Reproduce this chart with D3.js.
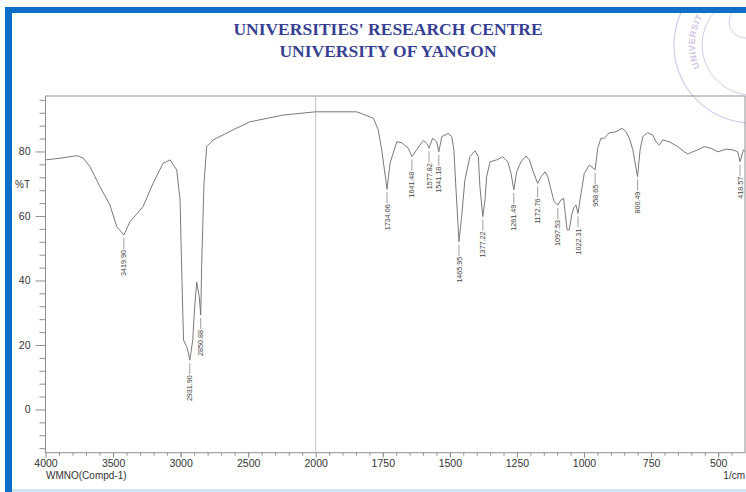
<!DOCTYPE html>
<html>
<head>
<meta charset="utf-8">
<script src="https://cdn.jsdelivr.net/npm/d3@7"></script>
<style>
  body { margin: 0; background: #fff; }
  svg { display: block; }
</style>
</head>
<body>
<div id="chart"></div>
<script>
// spectrum (cm-1, %T)
var wavenumbers = [4000, 3893, 3769, 3722, 3671, 3597, 3523, 3473, 3419.9, 3375, 3278, 3204, 3130, 3078, 3029, 3004,
  2990, 2978, 2955, 2945, 2931.9, 2910, 2899, 2881, 2862, 2850.88, 2844, 2827, 2807, 2758, 2612, 2486, 2240, 2000,
  1847, 1785, 1767, 1754, 1734.06, 1723, 1698, 1679, 1655, 1641.48, 1624, 1599, 1586, 1577.82, 1564, 1549, 1541.18,
  1530, 1506, 1493, 1485, 1477, 1465.95, 1456, 1444, 1425, 1406, 1394, 1388, 1377.22, 1369, 1363, 1350, 1325, 1303,
  1284, 1272, 1261.49, 1251, 1235, 1216, 1204, 1189, 1172.76, 1160, 1145, 1135, 1123, 1111, 1097.53, 1086, 1076,
  1070, 1063, 1055, 1045, 1036, 1030, 1022.31, 1011, 999, 980, 958.65, 949, 937, 924, 906, 881, 858, 843, 831, 818,
  800.49, 791, 781, 763, 744, 732, 719, 707, 682, 651, 626, 613, 595, 576, 552, 527, 501, 470, 445, 427, 418.57, 406, 400];
var transmittance = [77.4, 77.9, 78.7, 78.0, 75.3, 69.1, 63.4, 56.7, 54.1, 58.2, 62.9, 70.1, 76.3, 77.4, 74.3, 65,
  40, 21.5, 19.5, 18, 15.3, 21.5, 29.9, 39.5, 35, 29.3, 45, 70, 81.5, 83.6, 86.7, 89.2, 91.3, 92.3,
  92.3, 90.3, 86.7, 80.5, 68.3, 76.3, 83.0, 82.7, 81.0, 78.4, 80.5, 83.4, 82.5, 81.0, 84.1, 83.0, 79.9,
  84.6, 85.6, 84.6, 80.5, 68.1, 52.0, 59.8, 71.2, 78.4, 80.2, 78.4, 69.1, 59.8, 65.0, 72.2, 76.8, 77.4, 78.4,
  76.8, 73.2, 68.1, 73.7, 76.8, 78.6, 77.4, 73.7, 70.1, 72.2, 73.7, 72.2, 68.1, 64.4, 63.4, 65.0, 65.5,
  60.8, 55.7, 55.7, 60.8, 62.9, 63.4, 60.8, 67.0, 73.2, 75.8, 74.3, 81.0, 84.1, 84.1, 85.8, 86.1, 87.2, 86.1, 84.1, 80.5,
  72.2, 80.5, 84.6, 85.8, 85.1, 83.0, 82.0, 83.6, 83.0, 81.5, 79.9, 79.2, 79.9, 80.5, 81.5, 81.0, 79.9, 80.7, 80.5, 79.9, 76.8, 80.5, 80.0];

var peakWavenumbers = [3419.90, 2931.90, 2850.88, 1734.06, 1641.48, 1577.82, 1541.18, 1465.95, 1377.22,
  1261.49, 1172.76, 1097.53, 1022.31, 958.65, 800.49, 418.57];
var peakTransmittance = [54.1, 15.3, 29.3, 68.3, 78.4, 81.0, 79.9, 52.0, 59.8, 68.1, 70.1, 63.4, 60.8, 74.3, 72.2, 76.8];
var peakLabels = ["3419.90", "2931.90", "2850.88", "1734.06", "1641.48", "1577.82", "1541.18", "1465.95", "1377.22",
  "1261.49", "1172.76", "1097.53", "1022.31", "958.65", "800.49", "418.57"];

var xTickLabels = [4000, 3500, 3000, 2500, 2000, 1750, 1500, 1250, 1000, 750, 500];
var yTickLabels = [0, 20, 40, 60, 80];

var titleLines = ["UNIVERSITIES' RESEARCH CENTRE", "UNIVERSITY OF YANGON"];

var svgWidth = 746;
var svgHeight = 492;
var plot = { left: 45.5, right: 745, top: 96, bottom: 452.7 };
var font = "Liberation Sans, Arial, sans-serif";

var svg = d3.select("#chart").append("svg")
  .attr("width", svgWidth)
  .attr("height", svgHeight);

// stamp is cut by the page edge under the blue bar
svg.append("clipPath").attr("id", "pageClip")
  .append("rect").attr("x", 12).attr("y", 13).attr("width", svgWidth).attr("height", svgHeight);

// faint stamp in the corner
var stamp = svg.append("g").attr("opacity", 0.4).attr("clip-path", "url(#pageClip)");
var sc = { x: 752, y: 45 };
stamp.append("circle").attr("cx", sc.x).attr("cy", sc.y).attr("r", 78)
  .attr("fill", "none").attr("stroke", "#9a7fd0").attr("stroke-width", 1.2);
stamp.append("circle").attr("cx", sc.x).attr("cy", sc.y).attr("r", 50)
  .attr("fill", "none").attr("stroke", "#9a7fd0").attr("stroke-width", 1);
stamp.append("circle").attr("cx", 745).attr("cy", 22).attr("r", 16)
  .attr("fill", "none").attr("stroke", "#9a7fd0").attr("stroke-width", 1);
var a0 = Math.PI * 0.87;
var rr = 57;
stamp.append("path").attr("id", "stampArc").attr("fill", "none")
  .attr("d", "M" + (sc.x + rr * Math.cos(a0)) + "," + (sc.y + rr * Math.sin(a0)) +
    " A" + rr + "," + rr + " 0 0,1 " + (sc.x + rr * Math.cos(a0 + 1.9)) + "," + (sc.y + rr * Math.sin(a0 + 1.9)));
stamp.append("text")
  .attr("font-family", font)
  .attr("font-size", "9px").attr("font-weight", "bold")
  .attr("letter-spacing", "0.6px").attr("fill", "#8a6cc8")
  .append("textPath").attr("href", "#stampArc").text("UNIVERSITY");

// blue frame of the scanned page
svg.append("rect").attr("x", 5).attr("y", 7).attr("width", svgWidth - 5).attr("height", 6).attr("fill", "#0b6fc7");
svg.append("rect").attr("x", 5).attr("y", 7).attr("width", 7).attr("height", svgHeight - 7).attr("fill", "#0b6fc7");
svg.append("rect").attr("x", 12).attr("y", 489).attr("width", svgWidth - 12).attr("height", 3).attr("fill", "#d2e5f4");

// title
svg.selectAll(".title").data(titleLines).enter().append("text")
  .attr("class", "title")
  .attr("x", 388)
  .attr("y", (d, i) => 35 + i * 22)
  .attr("text-anchor", "middle")
  .attr("font-family", "Liberation Serif, Times New Roman, serif")
  .attr("font-weight", "bold")
  .attr("font-size", "17.5px")
  .attr("fill", "#373f92")
  .text(d => d);

// scales: 4000-2000 compressed, 2000-400 expanded
var xScale = d3.scaleLinear()
  .domain([4000, 2000, 400])
  .range([plot.left, 315.7, plot.right]);
var yScale = d3.scaleLinear()
  .domain([-13.4, 97.2])
  .range([plot.bottom, plot.top]);

// plot frame
svg.append("rect")
  .attr("x", plot.left).attr("y", plot.top)
  .attr("width", plot.right - plot.left).attr("height", plot.bottom - plot.top)
  .attr("fill", "none").attr("stroke", "#8f8f8f").attr("stroke-width", 1);

// line at 2000 where the scale changes
svg.append("line")
  .attr("x1", xScale(2000)).attr("x2", xScale(2000))
  .attr("y1", plot.top).attr("y2", plot.bottom)
  .attr("stroke", "#cbbfbf").attr("stroke-width", 1);

// x axis ticks (100 steps above 2000, 50 below)
var xMinor = d3.range(3900, 2000, -100).concat(d3.range(1950, 400, -50));
var xAxis = d3.axisBottom(xScale).tickValues(xTickLabels).tickSize(5).tickPadding(2).tickFormat(d3.format("d"));
var xAxisMinor = d3.axisBottom(xScale).tickValues(xMinor).tickSize(3).tickFormat("");
var gx = svg.append("g").attr("transform", `translate(0, ${plot.bottom})`).call(xAxis);
var gxm = svg.append("g").attr("transform", `translate(0, ${plot.bottom})`).call(xAxisMinor);
[gx, gxm].forEach(function(g) {
  g.select(".domain").remove();
  g.selectAll("line").attr("stroke", "#8f8f8f");
});
gx.selectAll("text")
  .attr("font-family", font)
  .attr("font-size", "10.5px")
  .attr("fill", "#333");

// y axis ticks
var yMinor = d3.range(-12, 97, 4).filter(d => yTickLabels.indexOf(d) < 0);
var yAxis = d3.axisLeft(yScale).tickValues(yTickLabels).tickSize(10).tickPadding(5);
var yAxisMinor = d3.axisLeft(yScale).tickValues(yMinor).tickSize(6).tickFormat("");
var gy = svg.append("g").attr("transform", `translate(${plot.left}, 0)`).call(yAxis);
var gym = svg.append("g").attr("transform", `translate(${plot.left}, 0)`).call(yAxisMinor);
[gy, gym].forEach(function(g) {
  g.select(".domain").remove();
  g.selectAll("line").attr("stroke", "#8f8f8f");
});
gy.selectAll("text")
  .attr("font-family", font)
  .attr("font-size", "10.5px")
  .attr("fill", "#333");

// axis captions
svg.append("text")
  .attr("x", 30).attr("y", 188)
  .attr("text-anchor", "end")
  .attr("font-family", font)
  .attr("font-size", "10px").attr("fill", "#333")
  .text("%T");
svg.append("text")
  .attr("x", 46).attr("y", 479)
  .attr("font-family", font)
  .attr("font-size", "10px").attr("fill", "#333")
  .text("WMNO(Compd-1)");
svg.append("text")
  .attr("x", 745).attr("y", 479)
  .attr("text-anchor", "end")
  .attr("font-family", font)
  .attr("font-size", "10px").attr("fill", "#333")
  .text("1/cm");

// spectrum
var spectrum = wavenumbers.map((w, i) => ({ w: w, t: transmittance[i] }));
var line = d3.line()
  .x(d => xScale(d.w))
  .y(d => yScale(d.t));
svg.append("path")
  .datum(spectrum)
  .attr("d", line)
  .attr("fill", "none")
  .attr("stroke", "#7a7a7a")
  .attr("stroke-width", 1)
  .attr("stroke-linejoin", "round");

// peak labels
var peaks = peakWavenumbers.map((w, i) => ({ w: w, t: peakTransmittance[i], label: peakLabels[i] }));
var peakGroup = svg.selectAll(".peak").data(peaks).enter().append("g").attr("class", "peak");
peakGroup.append("line")
  .attr("x1", d => xScale(d.w)).attr("x2", d => xScale(d.w))
  .attr("y1", d => yScale(d.t) + 3).attr("y2", d => yScale(d.t) + 14)
  .attr("stroke", "#888").attr("stroke-width", 0.8);
peakGroup.append("text")
  .attr("transform", d => `translate(${xScale(d.w)}, ${yScale(d.t) + 15}) rotate(-90)`)
  .attr("text-anchor", "end")
  .attr("dy", "0.35em")
  .attr("font-family", font)
  .attr("font-size", "7.2px")
  .attr("fill", "#444")
  .text(d => d.label);
</script>
</body>
</html>
